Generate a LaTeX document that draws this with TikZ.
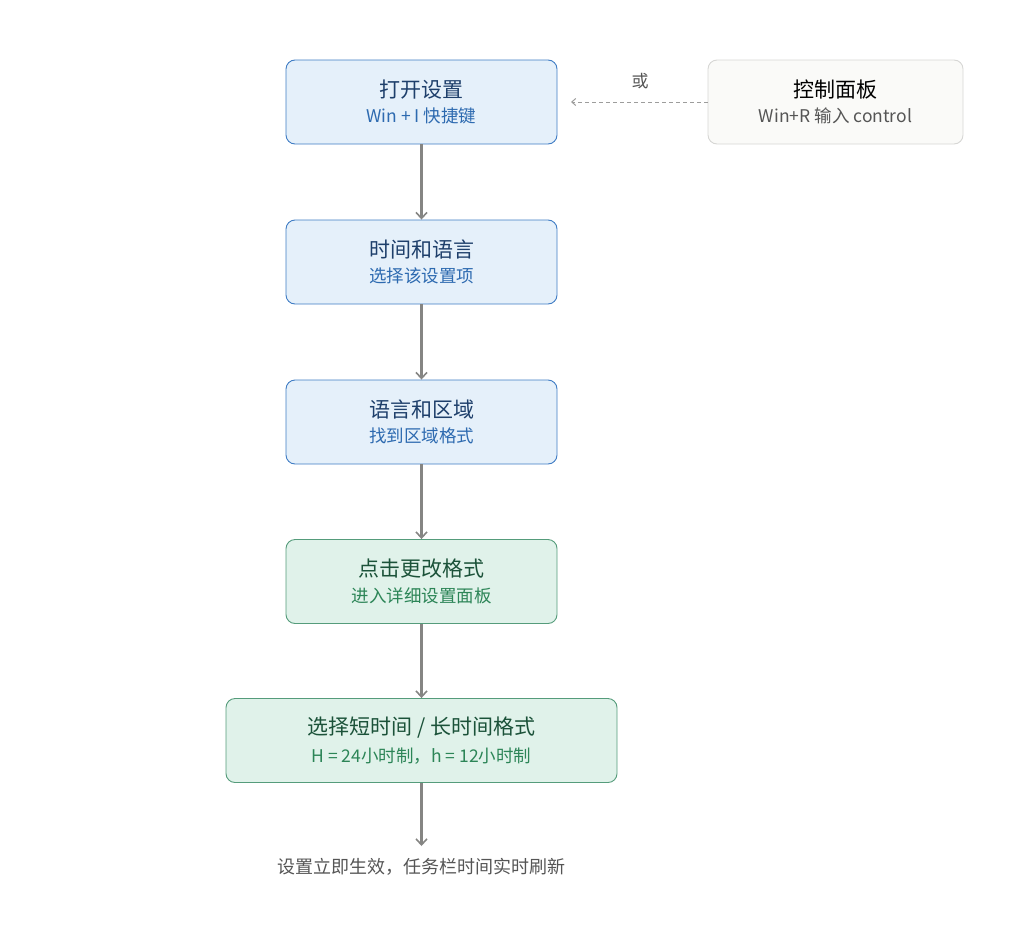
\documentclass[tikz,border=0pt]{standalone}
\usepackage{fontspec}
\setmainfont{Noto Sans CJK SC}
\usetikzlibrary{arrows.meta}
\definecolor{bluefill}{HTML}{E5F0FA}
\definecolor{blueline}{HTML}{3F7CC4}
\definecolor{bluetitle}{HTML}{1E3F6B}
\definecolor{bluesub}{HTML}{2D6AB0}
\definecolor{greenfill}{HTML}{E0F2EA}
\definecolor{greenline}{HTML}{559C7B}
\definecolor{greentitle}{HTML}{1B5239}
\definecolor{greensub}{HTML}{2C8557}
\definecolor{grayfill}{HTML}{FAFAF8}
\definecolor{grayline}{HTML}{D6D6D4}
\definecolor{arrowgray}{HTML}{858583}
\definecolor{textgray}{HTML}{555555}
\tikzset{
  x=1pt, y=-1pt,
  boxbase/.style={rounded corners=9pt, line width=0.9pt, minimum height=84pt, align=center, inner sep=0pt},
  bluebox/.style={boxbase, fill=bluefill, draw=blueline, minimum width=271pt},
  greenbox/.style={boxbase, fill=greenfill, draw=greenline, minimum width=271pt},
  widegreen/.style={greenbox, minimum width=391pt},
  graybox/.style={boxbase, fill=grayfill, draw=grayline, minimum width=255pt},
  flow/.style={draw=arrowgray, line width=2.2pt, -{Straight Barb[length=6pt,width=11pt,line width=1.6pt]}},
  dashflow/.style={draw=arrowgray!80, line width=1pt, dash pattern=on 4pt off 3pt, -{Straight Barb[length=4pt,width=7pt]}},
}
\newcommand{\btitle}[2]{{\color{#1}\fontsize{21}{24}\selectfont #2}}
\newcommand{\bsub}[2]{{\color{#1}\fontsize{17.5}{20}\selectfont #2}}
\begin{document}
\begin{tikzpicture}
\useasboundingbox (0,0) rectangle (1024,934);
\node[bluebox] (b1) at (421.5,102) {\btitle{bluetitle}{打开设置}\\[8pt]\bsub{bluesub}{Win + I 快捷键}};
\node[graybox] (cp) at (835.5,102) {\btitle{black}{控制面板}\\[8pt]\bsub{textgray}{Win+R 输入 control}};
\node[bluebox] (b2) at (421.5,262) {\btitle{bluetitle}{时间和语言}\\[8pt]\bsub{bluesub}{选择该设置项}};
\node[bluebox] (b3) at (421.5,422) {\btitle{bluetitle}{语言和区域}\\[8pt]\bsub{bluesub}{找到区域格式}};
\node[greenbox] (b4) at (421.5,581.5) {\btitle{greentitle}{点击更改格式}\\[8pt]\bsub{greensub}{进入详细设置面板}};
\node[widegreen] (b5) at (421.5,740.5) {\btitle{greentitle}{选择短时间 / 长时间格式}\\[8pt]\bsub{greensub}{H = 24小时制，h = 12小时制}};
\node[inner sep=0pt, text=textgray, font=\fontsize{18}{20}\selectfont] (res) at (421.5,867) {设置立即生效，任务栏时间实时刷新};
\coordinate (end) at (421.5,846);
\coordinate (dashend) at (571,102);
\node[text=textgray, font=\fontsize{17}{20}\selectfont] (or) at (640,81) {或};
\draw[flow] (b1.south) -- (b2.north);
\draw[flow] (b2.south) -- (b3.north);
\draw[flow] (b3.south) -- (b4.north);
\draw[flow] (b4.south) -- (b5.north);
\draw[flow] (b5.south) -- (end);
\draw[dashflow] (cp.west) -- (dashend);
\end{tikzpicture}
\end{document}
